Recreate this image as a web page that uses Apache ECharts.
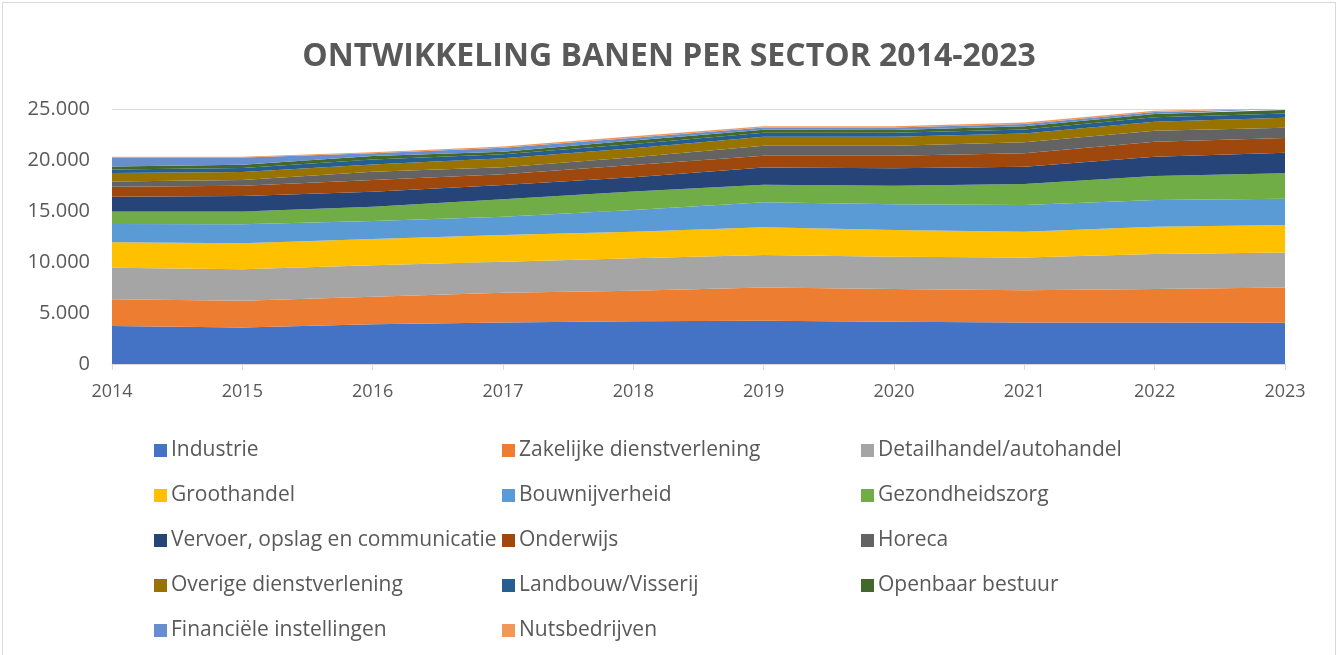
<!DOCTYPE html>
<html>
<head>
<meta charset="utf-8">
<script src="https://cdn.jsdelivr.net/npm/echarts@6/dist/echarts.min.js"></script>
<style>
  html, body { margin: 0; padding: 0; background: #fff; }
  #chart { position: absolute; left: 2px; top: 2px; width: 1334px; height: 660px; border: 1px solid #D9D9D9; box-sizing: border-box; }
</style>
</head>
<body>
<div id="chart"></div>
<script>
// jaren op de x-as
const years = ['2014', '2015', '2016', '2017', '2018', '2019', '2020', '2021', '2022', '2023'];

// banen per sector
const industrie     = [3720, 3590, 3890, 4080, 4180, 4240, 4150, 4080, 4080, 4050];
const zakelijke     = [2620, 2620, 2710, 2910, 3010, 3260, 3200, 3140, 3270, 3460];
const detailhandel  = [3100, 3070, 3080, 3040, 3170, 3190, 3170, 3230, 3430, 3430];
const groothandel   = [2490, 2550, 2570, 2620, 2610, 2710, 2610, 2520, 2680, 2680];
const bouw          = [1790, 1860, 1770, 1790, 2130, 2460, 2520, 2610, 2610, 2580];
const gezondheid    = [1240, 1270, 1400, 1700, 1800, 1720, 1830, 2060, 2350, 2490];
const vervoer       = [1440, 1510, 1470, 1410, 1400, 1680, 1700, 1700, 1900, 2020];
const onderwijs     = [980, 1010, 1150, 1050, 1210, 1160, 1240, 1310, 1470, 1440];
const horeca        = [520, 550, 810, 680, 750, 970, 980, 1080, 1080, 1020];
const overige       = [820, 790, 720, 880, 880, 890, 880, 880, 890, 970];
const landbouw      = [360, 390, 490, 400, 430, 390, 390, 390, 420, 430];
const openbaar      = [290, 330, 330, 260, 330, 300, 260, 320, 330, 320];
const financieel    = [880, 710, 260, 380, 290, 220, 260, 200, 190, 140];
const nuts          = [80, 80, 100, 120, 130, 130, 130, 150, 130, 80];

const yTicks = [0, 5000, 10000, 15000, 20000, 25000];

const sectors = [
  ['Industrie', industrie, '#4472C4'],
  ['Zakelijke dienstverlening', zakelijke, '#ED7D31'],
  ['Detailhandel/autohandel', detailhandel, '#A5A5A5'],
  ['Groothandel', groothandel, '#FFC000'],
  ['Bouwnijverheid', bouw, '#5B9BD5'],
  ['Gezondheidszorg', gezondheid, '#70AD47'],
  ['Vervoer, opslag en communicatie', vervoer, '#264478'],
  ['Onderwijs', onderwijs, '#9E480E'],
  ['Horeca', horeca, '#636363'],
  ['Overige dienstverlening', overige, '#997300'],
  ['Landbouw/Visserij', landbouw, '#255E91'],
  ['Openbaar bestuur', openbaar, '#43682B'],
  ['Financiële instellingen', financieel, '#698ED0'],
  ['Nutsbedrijven', nuts, '#F1975A']
];

const font = 'Open Sans';
const grey = '#595959';

const names = sectors.map(s => s[0]);
const col1 = names.filter((n, i) => i % 3 === 0);
const col2 = names.filter((n, i) => i % 3 === 1);
const col3 = names.filter((n, i) => i % 3 === 2);

function legendCol(left, data) {
  return {
    orient: 'vertical', left: left, top: 432, data: data,
    icon: 'rect', itemWidth: 13, itemHeight: 13, itemGap: 24,
    textStyle: { color: grey, fontSize: 21, fontFamily: font, padding: [0, 0, 0, -1] }
  };
}

const chart = echarts.init(document.getElementById('chart'));
chart.setOption({
  animation: false,
  color: sectors.map(s => s[2]),
  title: {
    text: 'ONTWIKKELING BANEN PER SECTOR 2014-2023',
    left: 'center', top: 33,
    textStyle: { color: grey, fontSize: 32, fontWeight: 'bold', fontFamily: font }
  },
  legend: [legendCol(146, col1), legendCol(494, col2), legendCol(853, col3)],
  grid: { left: 109, right: 50, top: 106, bottom: 297 },
  xAxis: {
    type: 'category', data: years, boundaryGap: false,
    axisLine: { lineStyle: { color: '#D9D9D9', width: 1 } },
    axisTick: { show: true, length: 6, lineStyle: { color: '#D9D9D9' } },
    axisLabel: { color: grey, fontSize: 18, fontFamily: font, margin: 19 }
  },
  yAxis: {
    type: 'value', min: yTicks[0], max: yTicks[yTicks.length - 1], interval: 5000,
    axisLine: { show: false }, axisTick: { show: false },
    splitLine: { lineStyle: { color: '#D9D9D9' } },
    axisLabel: {
      color: grey, fontSize: 20, fontFamily: font, margin: 22,
      formatter: v => v.toLocaleString('de-DE')
    }
  },
  series: sectors.map(s => ({
    name: s[0], type: 'line', stack: 'banen', data: s[1],
    showSymbol: false, symbol: 'none',
    lineStyle: { width: 0 },
    areaStyle: { color: s[2], opacity: 1 },
    itemStyle: { color: s[2] }
  }))
});
</script>
</body>
</html>
